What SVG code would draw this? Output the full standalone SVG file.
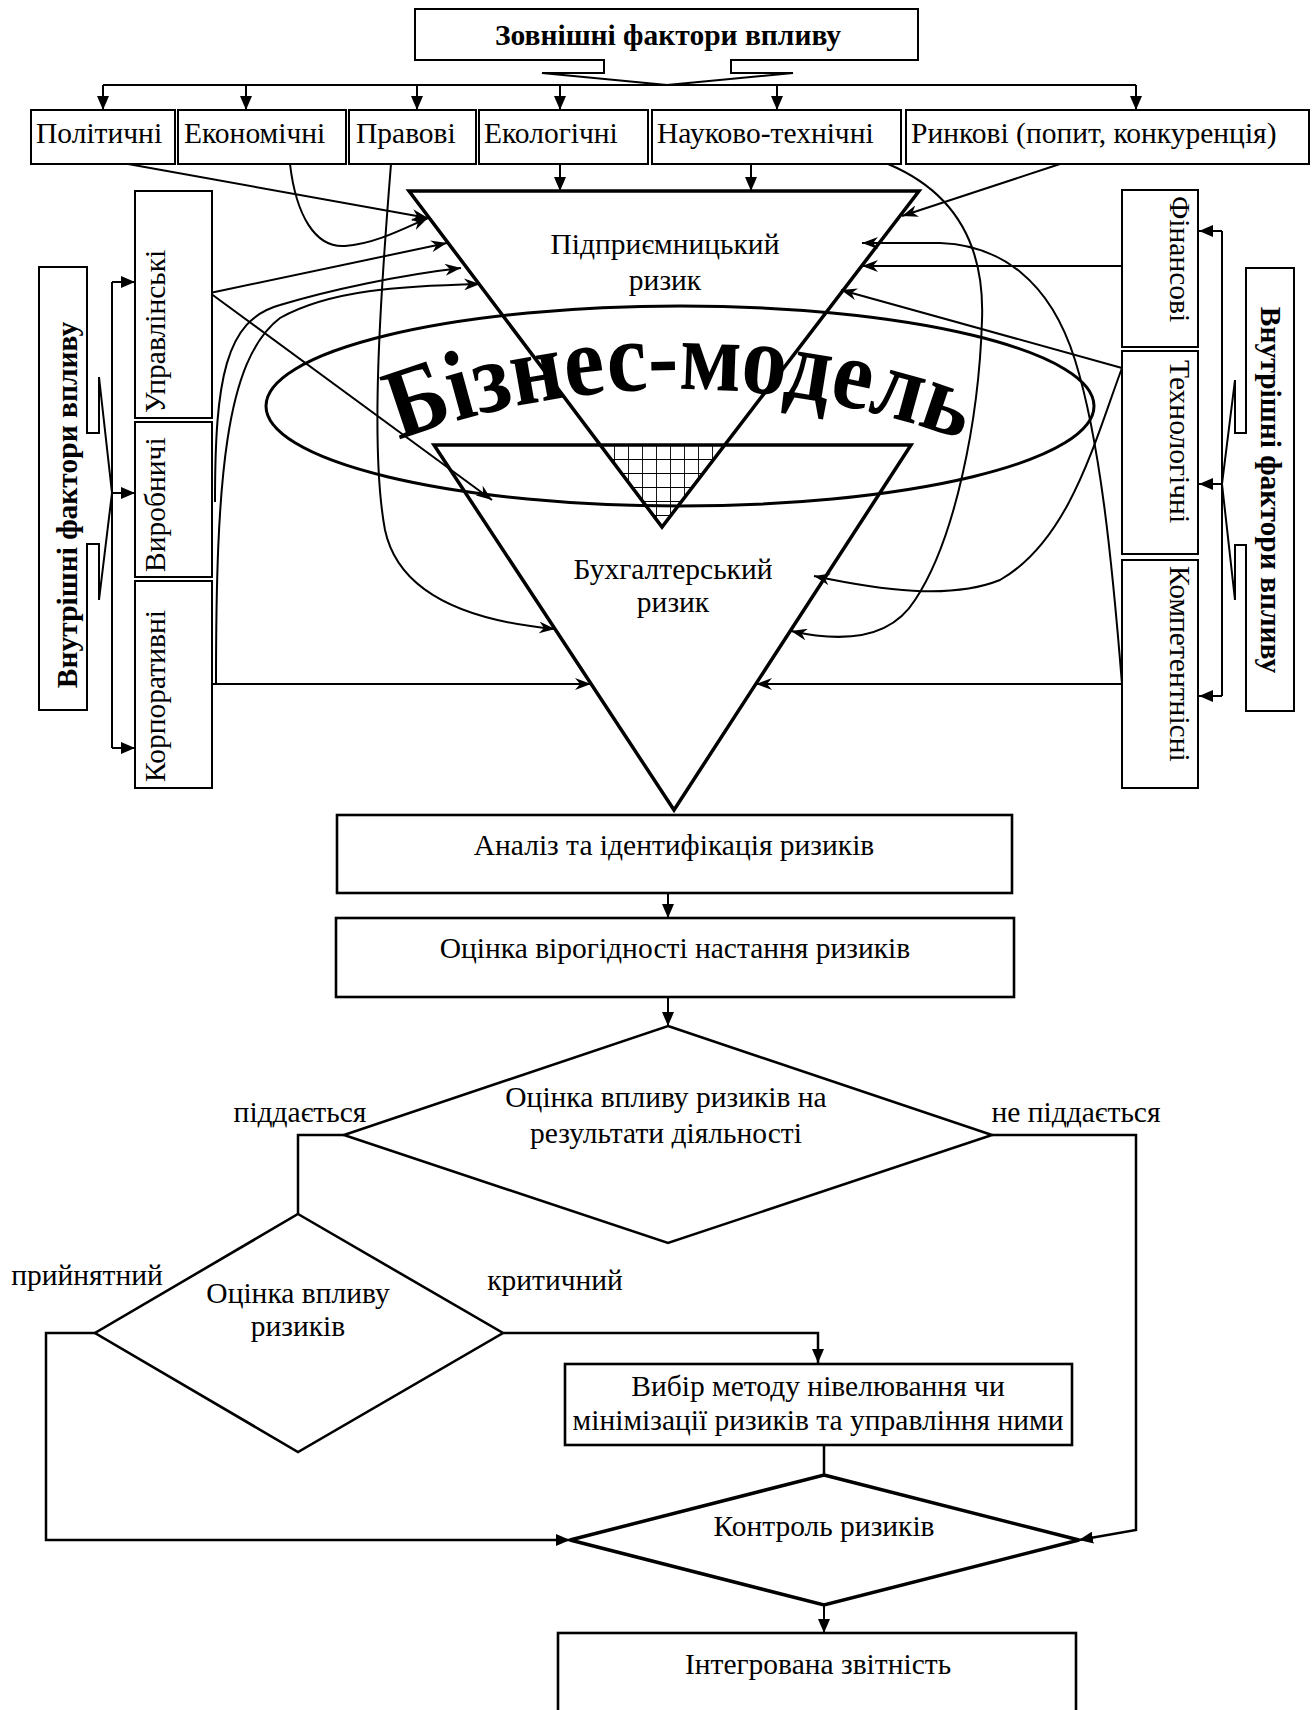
<svg xmlns="http://www.w3.org/2000/svg" width="1316" height="1710" viewBox="0 0 1316 1710">
<style>
.t{font-family:"Liberation Serif","Times New Roman",serif;font-size:29.5px;fill:#000}
.b{font-weight:bold}
.m{text-anchor:middle}
.ln{fill:none;stroke:#000;stroke-width:2}
.box{fill:#fff;stroke:#000;stroke-width:2}
.fbox{fill:#fff;stroke:#000;stroke-width:2.6}
.tri{fill:none;stroke:#000;stroke-width:3.5}
.ar{marker-end:url(#tri)}
.st{marker-end:url(#st)}
</style>
<defs>
<marker id="tri" viewBox="0 0 14 12" refX="14" refY="6" markerWidth="14" markerHeight="12" orient="auto" markerUnits="userSpaceOnUse"><path d="M0,0 L14,6 L0,12 z" fill="#000"/></marker>
<marker id="st" viewBox="0 0 16 12" refX="16" refY="6" markerWidth="16" markerHeight="12" orient="auto" markerUnits="userSpaceOnUse"><path d="M0,0 L16,6 L0,12 L5,6 z" fill="#000"/></marker>
<pattern id="grid" patternUnits="userSpaceOnUse" x="600" y="445" width="14" height="14"><path d="M0,0 H14 M0,0 V14" fill="none" stroke="#000" stroke-width="1.8"/></pattern>
<path id="arc" d="M360,456 A800,800 0 0 1 1000,456"/>
</defs>

<g id="model">
<ellipse cx="680" cy="406" rx="414" ry="100" fill="none" stroke="#000" stroke-width="3"/>
<polygon points="600,445 725,445 662,527" fill="url(#grid)"/>
<polygon class="tri" points="409,191 919,191 662,527"/>
<polygon class="tri" points="434,445 911,445 674,810"/>
<text class="t b m" style="font-size:100px"><textPath href="#arc" startOffset="50%" textLength="575" lengthAdjust="spacingAndGlyphs">Бізнес-модель</textPath></text>
<text class="t m" x="665" y="254">Підприємницький</text>
<text class="t m" x="665" y="290">ризик</text>
<text class="t m" x="673" y="579">Бухгалтерський</text>
<text class="t m" x="673" y="612">ризик</text>
</g>

<g id="connectors">
<line class="ln" x1="103" y1="85" x2="1136" y2="85"/>
<path class="ln ar" d="M103,85 V110"/>
<path class="ln ar" d="M246,85 V110"/>
<path class="ln ar" d="M417,85 V110"/>
<path class="ln ar" d="M560,85 V110"/>
<path class="ln ar" d="M777,85 V110"/>
<path class="ln ar" d="M1136,85 V110"/>

<path class="ln ar" d="M560,164 V191"/>
<path class="ln ar" d="M751,164 V191"/>
<path class="ln st" d="M128,164 L428,218"/>
<path class="ln st" d="M290,164 C296,215 315,248 345,246 C375,244 405,228 428,218"/>
<path class="ln st" d="M391,164 C380,300 370,450 385,530 C400,600 480,622 555,629"/>
<path class="ln st" d="M210,293 L447,243"/>
<path class="ln st" d="M210,293 L492,500"/>
<path class="ln st" d="M215,502 C215,380 225,320 280,305 C330,290 400,275 461,268"/>
<path class="ln st" d="M216,684 C216,480 225,360 280,318 C330,290 400,286 480,284"/>
<path class="ln st" d="M212,684 H591"/>

<path class="ln st" d="M1060,164 L902,216"/>
<path class="ln st" d="M888,164 C950,190 985,240 982,320 C979,420 955,540 915,600 C890,640 840,642 791,631"/>
<path class="ln st" d="M1122,266 H862"/>
<path class="ln st" d="M1122,684 C1112,560 1100,440 1075,360 C1050,280 1000,245 940,243 L862,243"/>
<path class="ln st" d="M1122,368 L841,290"/>
<path class="ln st" d="M1122,368 C1095,440 1070,540 1000,580 C950,600 880,590 814,576"/>
<path class="ln st" d="M1122,684 H756"/>

<line class="ln" x1="112" y1="282" x2="112" y2="748"/>
<path class="ln ar" d="M112,282 H135"/>
<path class="ln ar" d="M112,493 H135"/>
<path class="ln ar" d="M112,748 H135"/>
<line class="ln" x1="1222" y1="231" x2="1222" y2="696"/>
<path class="ln ar" d="M1222,231 H1199"/>
<path class="ln ar" d="M1222,484 H1199"/>
<path class="ln ar" d="M1222,696 H1199"/>

<path class="ln ar" d="M668,893 V918"/>
<path class="ln ar" d="M668,997 V1026"/>
<polyline class="ln" points="344,1135 298,1135 298,1214" style="stroke-width:2.5"/>
<path class="ln ar" d="M95,1333 H46 V1540 H570" style="stroke-width:2.5"/>
<path class="ln ar" d="M503,1333 H818 V1363" style="stroke-width:2.5"/>
<path class="ln ar" d="M992,1135 H1136 V1530 L1079,1540" style="stroke-width:2.5"/>
<line class="ln" x1="824" y1="1445" x2="824" y2="1475" style="stroke-width:2.5"/>
<path class="ln ar" d="M824,1605 V1633"/>
</g>

<g id="n-external">
<path class="box" d="M415,9 H918 V60 H731 V73 H793 L667,85 L542,73 H604 V60 H415 Z"/>
<text class="t b m" x="668" y="45">Зовнішні фактори впливу</text>
</g>
<g id="n-political"><rect class="box" x="31" y="110" width="144" height="54"/><text class="t" x="36" y="143">Політичні</text></g>
<g id="n-economic"><rect class="box" x="178" y="110" width="168" height="54"/><text class="t" x="184" y="143">Економічні</text></g>
<g id="n-legal"><rect class="box" x="349" y="110" width="127" height="54"/><text class="t" x="356" y="143">Правові</text></g>
<g id="n-ecological"><rect class="box" x="479" y="110" width="169" height="54"/><text class="t" x="484" y="143">Екологічні</text></g>
<g id="n-scitech"><rect class="box" x="652" y="110" width="249" height="54"/><text class="t" x="657" y="143">Науково-технічні</text></g>
<g id="n-market"><rect class="box" x="906" y="110" width="403" height="54"/><text class="t" x="911" y="143">Ринкові (попит, конкуренція)</text></g>

<g id="n-internal-left"><path class="box" d="M39,267 H87 V433 H99 V377 L112,493 L99,600 V544 H87 V710 H39 Z"/><text class="t b m" transform="translate(77,505) rotate(-90)">Внутрішні фактори впливу</text></g>
<g id="n-management"><rect class="box" x="135" y="191" width="77" height="227"/><text class="t" transform="translate(165,413) rotate(-90)">Управлінські</text></g>
<g id="n-production"><rect class="box" x="135" y="422" width="77" height="155"/><text class="t" transform="translate(165,572) rotate(-90)">Виробничі</text></g>
<g id="n-corporate"><rect class="box" x="135" y="581" width="77" height="207"/><text class="t" transform="translate(165,782) rotate(-90)">Корпоративні</text></g>

<g id="n-internal-right"><path class="box" d="M1294,268 V711 H1246 V545 H1235 V600 L1222,484 L1235,380 V433 H1246 V268 Z"/><text class="t b m" transform="translate(1261,490) rotate(90)">Внутрішні фактори впливу</text></g>
<g id="n-financial"><rect class="box" x="1122" y="190" width="76" height="157"/><text class="t" transform="translate(1170,196) rotate(90)">Фінансові</text></g>
<g id="n-technological"><rect class="box" x="1122" y="351" width="76" height="203"/><text class="t" transform="translate(1170,360) rotate(90)">Технологічні</text></g>
<g id="n-competence"><rect class="box" x="1122" y="560" width="76" height="228"/><text class="t" transform="translate(1170,566) rotate(90)">Компетентнісні</text></g>

<g id="n-analysis"><rect class="fbox" x="337" y="815" width="675" height="78"/><text class="t m" x="674" y="855">Аналіз та ідентифікація ризиків</text></g>
<g id="n-probability"><rect class="fbox" x="336" y="918" width="678" height="79"/><text class="t m" x="675" y="958">Оцінка вірогідності настання ризиків</text></g>
<g id="n-impact"><polygon class="fbox" points="668,1026 992,1135 668,1243 344,1135"/><text class="t m" x="666" y="1107">Оцінка впливу ризиків на</text><text class="t m" x="666" y="1143">результати діяльності</text></g>
<text class="t m" x="300" y="1122">піддається</text>
<text class="t m" x="1076" y="1122">не піддається</text>
<g id="n-impact2"><polygon class="fbox" points="298,1214 503,1333 298,1452 95,1333"/><text class="t m" x="298" y="1303">Оцінка впливу</text><text class="t m" x="298" y="1336">ризиків</text></g>
<text class="t m" x="87" y="1285">прийнятний</text>
<text class="t m" x="555" y="1290">критичний</text>
<g id="n-method"><rect class="fbox" x="565" y="1364" width="507" height="81"/><text class="t m" x="818" y="1396">Вибір методу нівелювання чи</text><text class="t m" x="818" y="1430">мінімізації ризиків та управління ними</text></g>
<g id="n-control"><polygon class="fbox" points="824,1475 1079,1540 824,1605 570,1540" style="stroke-width:3.5"/><text class="t m" x="824" y="1536">Контроль ризиків</text></g>
<g id="n-report"><rect class="fbox" x="558" y="1633" width="518" height="90"/><text class="t m" x="818" y="1674">Інтегрована звітність</text></g>
</svg>
